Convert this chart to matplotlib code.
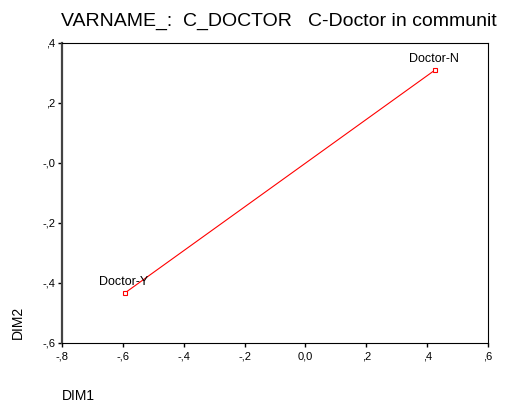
import matplotlib
matplotlib.use("Agg")
import matplotlib.pyplot as plt
from matplotlib.ticker import FixedLocator, FuncFormatter

plt.rcParams["font.family"] = ["Liberation Sans", "DejaVu Sans"]

# data
categories = ["Doctor-Y", "Doctor-N"]
dim1 = [-0.593, 0.426]
dim2 = [-0.433, 0.310]

x_ticks = [-0.8, -0.6, -0.4, -0.2, 0.0, 0.2, 0.4, 0.6]
y_ticks = [-0.6, -0.4, -0.2, 0.0, 0.2, 0.4]
x_tick_labels = ["-,8", "-,6", "-,4", "-,2", "0,0", ",2", ",4", ",6"]
y_tick_labels = ["-,6", "-,4", "-,2", "-,0", ",2", ",4"]


def main():
    fig = plt.figure(figsize=(5.08, 4.05), dpi=100)
    W, H = 508, 405
    left, right, top, bottom = 62, 488, 43, 343
    ax = fig.add_axes([left / W, 1 - bottom / H, (right - left) / W, (bottom - top) / H])

    ax.plot(dim1, dim2, color="red", lw=0.8, marker="s", markersize=3.5,
            markerfacecolor="white", markeredgecolor="red", markeredgewidth=0.8)

    for name, x, y in zip(categories, dim1, dim2):
        ax.annotate(name, (x, y), xytext=(-1, 6), textcoords="offset points",
                    ha="center", va="baseline", fontsize=9)

    ax.set_xlim(-0.8, 0.6)
    ax.set_ylim(-0.6, 0.4)
    ax.xaxis.set_major_locator(FixedLocator(x_ticks))
    ax.yaxis.set_major_locator(FixedLocator(y_ticks))
    ax.xaxis.set_major_formatter(FuncFormatter(lambda v, i: x_tick_labels[i]))
    ax.yaxis.set_major_formatter(FuncFormatter(lambda v, i: y_tick_labels[i]))
    ax.tick_params(axis="both", direction="out", length=3, width=1, labelsize=8, pad=2)
    ax.tick_params(axis="x", pad=3)

    for side in ["top", "right", "bottom"]:
        ax.spines[side].set_linewidth(0.8)
    ax.spines["left"].set_linewidth(1.6)
    ax.spines["left"].set_color("#444444")

    fig.text(61 / W, 1 - 26 / H, "VARNAME_:  C_DOCTOR   C-Doctor in communit",
             fontsize=14, ha="left", va="baseline")
    fig.text(18 / W, 1 - 322 / H, "DIM2", rotation=90, fontsize=10,
             ha="center", va="center")
    fig.text(62 / W, 1 - 396 / H, "DIM1", fontsize=10, ha="left", va="center")

    fig.savefig("out.png", dpi=100)


if __name__ == "__main__":
    main()
